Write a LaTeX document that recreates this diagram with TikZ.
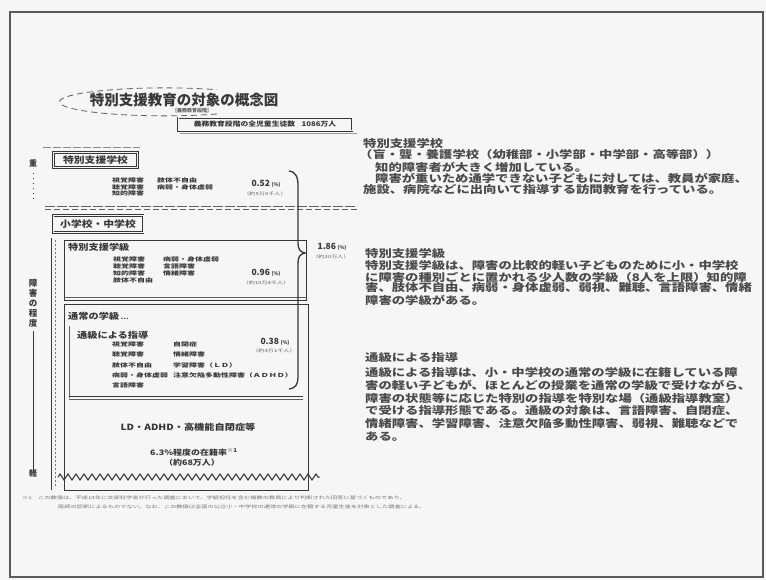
\documentclass[tikz,border=0pt]{standalone}
\usepackage{fontspec}
\usetikzlibrary{decorations.pathmorphing}
\newfontfamily\jp{Noto Sans CJK JP}
\newfontfamily\jpw[FakeStretch=1.27]{Noto Sans CJK JP}
\newfontfamily\jpm[FakeStretch=1.2]{Noto Sans CJK JP}
\newfontfamily\jps[FakeStretch=1.45]{Noto Sans CJK JP}
\definecolor{ink}{RGB}{55,55,55}
\definecolor{txt}{RGB}{75,75,75}
\definecolor{bg}{RGB}{246,246,246}
\definecolor{frame}{RGB}{90,90,90}
\tikzset{
  rt/.style={anchor=west,inner sep=0pt,text=txt,font=\jpw\bfseries\fontsize{10.5}{12}\selectfont},
  sm/.style={anchor=west,inner sep=0pt,text=ink,font=\jps\bfseries\fontsize{5.5}{6.5}\selectfont},
  tiny/.style={inner sep=0pt,text=ink!80,font=\jps\fontsize{4.2}{5}\selectfont},
  lbl/.style={anchor=west,inner sep=0pt,text=ink,font=\jpm\bfseries\fontsize{8.5}{9}\selectfont},
  pct/.style={inner sep=0pt,text=ink,font=\jp\bfseries\fontsize{8.5}{9}\selectfont},
  dbox/.style={draw=ink,double=bg,double distance=1pt,line width=0.8pt,inner xsep=4pt,inner ysep=2pt,text=ink,font=\jpm\bfseries\fontsize{9}{10}\selectfont},
  ln/.style={draw=ink,line width=0.9pt},
  thin/.style={draw=ink!80,line width=0.6pt},
  foot/.style={anchor=west,inner sep=0pt,text=ink!70,font=\jps\fontsize{4.3}{5}\selectfont}
}
\begin{document}
\begin{tikzpicture}[x=1pt,y=-1pt]
\useasboundingbox (0,0) rectangle (766,580);
\fill[bg] (0,0) rectangle (766,580);
% page frame
\draw[frame,line width=1.2pt] (10,12) rectangle (763,577);

% title
\draw[ink!80,line width=0.8pt,dash pattern=on 6pt off 4pt] (217,114) arc[start angle=60,end angle=300,x radius=105,y radius=14];
\node[inner sep=0pt,text=ink,font=\jp\bfseries\fontsize{14.5}{15}\selectfont] (title) at (184,100) {特別支援教育の対象の概念図};
\node[tiny,font=\jp\bfseries\fontsize{5}{5}\selectfont] (stage) at (192,111) {［義務教育段階］};
\node[draw=ink,double=bg,double distance=1pt,line width=0.8pt,minimum width=174pt,minimum height=13pt,inner sep=0pt,text=ink,font=\jpm\bfseries\fontsize{6.5}{7}\selectfont] (total) at (265,124.5) {義務教育段階の全児童生徒数\quad 1086万人};
\draw[thin,ink!50] (180,133.5) -- (357,133.5);

% left axis
\node[inner sep=0pt,text=ink,font=\jp\bfseries\fontsize{8}{8}\selectfont] (heavy) at (33,163) {重};
\draw[ink,line width=1pt,dash pattern=on 1pt off 4pt] (33,173) -- (33,200);
\node[inner sep=0pt,text=ink,font=\jp\bfseries\fontsize{8.5}{10}\selectfont,align=center] (degree) at (33,303) {障\\害\\の\\程\\度};
\node[inner sep=0pt,text=ink,font=\jp\bfseries\fontsize{8}{8}\selectfont] (light) at (33,473) {軽};
\draw[ink,line width=1pt] ([yshift=-4pt]degree.south) -- ([yshift=-4pt]light.north);

% special support school
\draw[thin,ink!60,dash pattern=on 8pt off 2pt] (43,147) -- (140,147);
\node[dbox,minimum width=84pt,minimum height=15pt,inner sep=0pt] (sschool) at (95.5,160) {特別支援学校};
\node[sm] (s1) at (112,180) {視覚障害};
\node[sm] (s2) at (112,187) {聴覚障害};
\node[sm] (s3) at (112,193.5) {知的障害};
\node[sm] (s4) at (157,180) {肢体不自由};
\node[sm] (s5) at (157,187) {病弱・身体虚弱};
\node[pct] (p52) at (266,184) {0.52\,{\fontsize{5}{5}\selectfont(\%)}};
\node[tiny] (n52) at (265,194) {（約5万6千人）};

\draw[thin,dash pattern=on 10pt off 2pt] (45,206) -- (357,206);
\draw[thin,dash pattern=on 6pt off 3pt] (45,209) -- (357,209);

% elementary / junior high
\node[dbox,minimum width=90pt,minimum height=17pt,inner sep=0pt] (eschool) at (98,224) {小学校・中学校};
\draw[ln] (51,238) -- (51,490);
\draw[ink!70,line width=0.7pt,dash pattern=on 2pt off 2pt] (55,240) -- (55,488);

% special class
\draw[ln] (64,240) rectangle (306,300);
\draw[thin] (64,297) -- (306,297);
\node[lbl] (sclass) at (68,247) {特別支援学級};
\node[sm] (c1) at (113,259) {視覚障害};
\node[sm] (c2) at (113,266) {聴覚障害};
\node[sm] (c3) at (113,273) {知的障害};
\node[sm] (c4) at (113,280) {肢体不自由};
\node[sm] (c5) at (163,259) {病弱・身体虚弱};
\node[sm] (c6) at (163,266) {言語障害};
\node[sm] (c7) at (163,273) {情緒障害};
\node[pct] (p96) at (266,273) {0.96\,{\fontsize{5}{5}\selectfont(\%)}};
\node[tiny] (n96) at (266,283) {（約10万4千人）};

% regular class
\draw[ln] (64,304) rectangle (308,490);
\node[lbl] (rclass) at (68,316) {通常の学級\,{\fontsize{6}{6}\selectfont …}};
\draw[thin] (69,326) -- (69,398);
\draw[ln] (69,396) -- (303,396);
\draw[thin] (69,399) -- (303,399);
\node[lbl] (tsukyu) at (77,335) {通級による指導};
\node[sm] (t1) at (112,344) {視覚障害};
\node[sm] (t2) at (112,354) {聴覚障害};
\node[sm] (t3) at (112,365) {肢体不自由};
\node[sm] (t4) at (112,375) {病弱・身体虚弱};
\node[sm] (t5) at (112,385) {言語障害};
\node[sm] (t6) at (173,344) {自閉症};
\node[sm] (t7) at (173,354) {情緒障害};
\node[sm] (t8) at (173,365) {学習障害（ＬＤ）};
\node[sm] (t9) at (173,375) {注意欠陥多動性障害（ＡＤＨＤ）};
\node[pct] (p38) at (275,342) {0.38\,{\fontsize{5}{5}\selectfont(\%)}};
\node[tiny] (n38) at (274,351) {（約4万1千人）};

% brace
\draw[ink,line width=1.3pt] (289,171) .. controls (296,172) and (298,177) .. (298,186) -- (298,243) .. controls (298,249) and (300,252) .. (305,253) .. controls (300,254) and (298,257) .. (298,263) -- (298,377) .. controls (298,384) and (296,388) .. (289,389);
\node[pct] (p186) at (332,247) {1.86\,{\fontsize{5}{5}\selectfont(\%)}};
\node[tiny] (n186) at (331,257) {（約20万人）};

% LD etc
\node[inner sep=0pt,text=ink,font=\jpm\bfseries\fontsize{8.5}{9}\selectfont] (ld) at (188,427) {LD・ADHD・高機能自閉症等};
\node[inner sep=0pt,text=ink,font=\jpm\bfseries\fontsize{7.5}{8}\selectfont] (rate) at (194,452) {6.3\%程度の在籍率\textsuperscript{※1}};
\node[inner sep=0pt,text=ink,font=\jpm\bfseries\fontsize{7.5}{8}\selectfont] (num) at (192,463) {（約68万人）};
\draw[ink,line width=1pt,decorate,decoration={zigzag,segment length=8pt,amplitude=3pt}] (58,477) -- (320,477);

% footnote
\node[foot] (f1) at (22,498) {※1　この数値は、平成14年に文部科学省が行った調査において、学級担任を含む複数の教員により判断された回答に基づくものであり、};
\node[foot] (f2) at (58,507) {医師の診断によるものでない。なお、この数値は全国の公立小・中学校の通常の学級に在籍する児童生徒を対象とした調査による。};

% right text
\node[rt] (a0) at (363,143) {特別支援学校};
\node[rt] (a1) at (359,155) {（盲・聾・養護学校（幼稚部・小学部・中学部・高等部））};
\node[rt] (a2) at (375,167) {知的障害者が大きく増加している。};
\node[rt] (a3) at (375,178) {障害が重いため通学できない子どもに対しては、教員が家庭、};
\node[rt] (a4) at (363,190) {施設、病院などに出向いて指導する訪問教育を行っている。};

\node[rt] (b0) at (365,253) {特別支援学級};
\node[rt] (b1) at (365,265) {特別支援学級は、障害の比較的軽い子どものために小・中学校};
\node[rt] (b2) at (365,277) {に障害の種別ごとに置かれる少人数の学級（8人を上限）知的障};
\node[rt] (b3) at (365,288) {害、肢体不自由、病弱・身体虚弱、弱視、難聴、言語障害、情緒};
\node[rt] (b4) at (365,300) {障害の学級がある。};

\node[rt] (c0) at (365,358) {通級による指導};
\node[rt] (d1) at (365,372) {通級による指導は、小・中学校の通常の学級に在籍している障};
\node[rt] (d2) at (365,385) {害の軽い子どもが、ほとんどの授業を通常の学級で受けながら、};
\node[rt] (d3) at (365,398) {障害の状態等に応じた特別の指導を特別な場（通級指導教室）};
\node[rt] (d4) at (365,411) {で受ける指導形態である。通級の対象は、言語障害、自閉症、};
\node[rt] (d5) at (365,423) {情緒障害、学習障害、注意欠陥多動性障害、弱視、難聴などで};
\node[rt] (d6) at (365,437) {ある。};
\end{tikzpicture}
\end{document}
